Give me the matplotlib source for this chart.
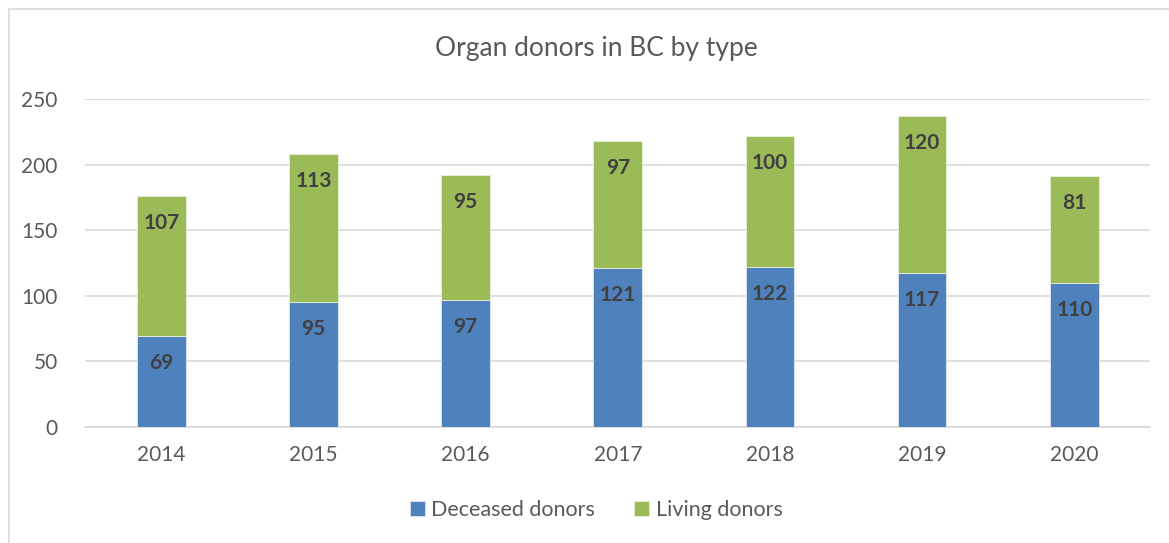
import matplotlib
matplotlib.use("Agg")
import matplotlib.pyplot as plt
import numpy as np

years = ["2014", "2015", "2016", "2017", "2018", "2019", "2020"]
deceased = [69, 95, 97, 121, 122, 117, 110]
living = [107, 113, 95, 97, 100, 120, 81]

plt.rcParams['font.family'] = ['Lato', 'DejaVu Sans']

fig = plt.figure(figsize=(11.69, 5.43), dpi=100)
ax = fig.add_axes([0.073, 0.2137, 0.911, 0.604])

# chart frame
fig.patches.append(plt.Rectangle((9 / 1169, -0.1), 1.2, 1 - 9 / 543 + 0.1,
                                 transform=fig.transFigure, fill=False,
                                 edgecolor='#d9d9d9', linewidth=1.2))

x = np.arange(len(years))
w = 0.32
blue = '#4f81bd'
green = '#9bbb59'
b1 = ax.bar(x, deceased, w, color=blue, edgecolor='#dce6f2', linewidth=0.6,
            label='Deceased donors', zorder=3)
b2 = ax.bar(x, living, w, bottom=deceased, color=green, edgecolor='#ebf1de',
            linewidth=0.6, label='Living donors', zorder=3)

for i in range(len(years)):
    ax.annotate(str(deceased[i]), (x[i], deceased[i]), xytext=(0, -27),
                textcoords='offset pixels', ha='center', va='center',
                fontsize=15, fontweight='bold', color='#404040', zorder=4)
    ax.annotate(str(living[i]), (x[i], deceased[i] + living[i]), xytext=(0, -27),
                textcoords='offset pixels', ha='center', va='center',
                fontsize=15, fontweight='bold', color='#404040', zorder=4)

ax.set_xlim(-0.5, len(years) - 0.5)
ax.set_ylim(0, 250)
ax.set_yticks(range(0, 251, 50))
ax.set_xticks(x)
ax.set_xticklabels(years)
ax.grid(axis='y', color='#d9d9d9', linewidth=1.2, zorder=0)
for s in ['top', 'right', 'left']:
    ax.spines[s].set_visible(False)
ax.spines['bottom'].set_color('#d9d9d9')
ax.spines['bottom'].set_linewidth(1.2)
ax.tick_params(axis='both', length=0, labelsize=15, labelcolor='#595959')
ax.tick_params(axis='x', pad=13)
ax.tick_params(axis='y', pad=20)

fig.text(0.51, 0.91, 'Organ donors in BC by type', ha='center', va='center',
         fontsize=19, color='#595959')

fig.legend(handles=[b1, b2], loc='center', bbox_to_anchor=(0.51, 0.06),
           ncol=2, frameon=False, fontsize=15.5, labelcolor='#595959',
           handlelength=0.7, handleheight=0.7, handletextpad=0.3,
           columnspacing=1.8)

fig.savefig('out.png', dpi=100)
